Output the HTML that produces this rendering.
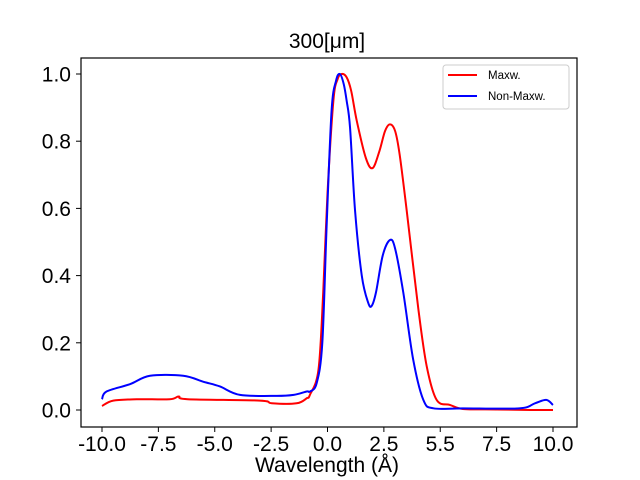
<!DOCTYPE html>
<html><head><meta charset="utf-8"><style>
body{margin:0;background:#fff}
svg{display:block;font-family:"Liberation Sans","DejaVu Sans",sans-serif}
</style></head><body>
<svg id="chart" width="640" height="480" viewBox="0 0 640 480">
<rect width="640" height="480" fill="#fff"/>
<text x="327" y="48" font-size="21" text-anchor="middle">300[μm]</text>
<g id="marks"></g>
<rect x="81" y="58" width="496" height="369" fill="none" stroke="#000" stroke-width="1.2"/>
<g id="ticks"></g>
<text x="327" y="472" font-size="21" text-anchor="middle">Wavelength (Å)</text>
<g>
<rect x="443" y="65" width="126" height="44" rx="3" fill="#fff" stroke="#ccc"/>
<line x1="448" y1="75" x2="477" y2="75" stroke="#f00" stroke-width="2"/>
<text x="488" y="79" font-size="11.5">Maxw.</text>
<line x1="448" y1="96" x2="477" y2="96" stroke="#00f" stroke-width="2"/>
<text x="488" y="100" font-size="11.5">Non-Maxw.</text>
</g>
</svg>
<script>
const xTicks=[-10,-7.5,-5,-2.5,0,2.5,5,7.5,10];
const xTickLabels=["-10.0","-7.5","-5.0","-2.5","0.0","2.5","5.5","7.5","10.0"];
const yTicks=[0,0.2,0.4,0.6,0.8,1.0];
const yTickLabels=["0.0","0.2","0.4","0.6","0.8","1.0"];
const maxwX=[-10,-9.5,-8.46,-7,-6.6,-6.2,-3,-2.47,-1.37,-0.92,-0.78,-0.4,-0.19,0,0.26,0.45,0.63,0.85,1.05,1.3,1.7,2.0,2.3,2.55,2.77,3.0,3.2,3.51,4.03,4.4,4.84,5.43,6,7,8,9,10];
const maxwY=[0.012,0.028,0.032,0.032,0.04,0.032,0.028,0.02,0.02,0.035,0.045,0.12,0.35,0.645,0.92,0.985,1.0,0.99,0.95,0.86,0.75,0.72,0.77,0.83,0.85,0.83,0.76,0.595,0.30,0.13,0.03,0.015,0.003,0.002,0.001,0.0,0.0];
const nonX=[-10,-9.8,-8.76,-7.87,-6.4,-5.5,-4.77,-3.88,-2.25,-1.5,-0.92,-0.78,-0.48,-0.23,-0.04,0.18,0.38,0.55,0.72,0.85,1.0,1.22,1.52,1.8,1.96,2.15,2.45,2.77,3.0,3.36,3.8,4.25,4.7,6,8.5,9.2,9.7,10];
const nonY=[0.032,0.055,0.077,0.102,0.102,0.084,0.07,0.045,0.042,0.045,0.055,0.055,0.08,0.2,0.545,0.89,0.98,1.0,0.97,0.92,0.84,0.595,0.40,0.32,0.31,0.35,0.46,0.506,0.48,0.35,0.15,0.03,0.005,0.005,0.005,0.02,0.03,0.015];
const NS="http://www.w3.org/2000/svg";
const sx=v=>327.5+v*22.55;
const sy=v=>410-v*336;
const marks=document.getElementById('marks');
function line(xs,ys,color,name){
  const P=xs.map((x,i)=>[sx(x),sy(ys[i])]);
  let d='M'+P[0][0]+','+P[0][1];
  for(let i=0;i<P.length-1;i++){
    const p0=P[Math.max(0,i-1)],p1=P[i],p2=P[i+1],p3=P[Math.min(P.length-1,i+2)];
    const c1=[p1[0]+(p2[0]-p0[0])/6,p1[1]+(p2[1]-p0[1])/6];
    const c2=[p2[0]-(p3[0]-p1[0])/6,p2[1]-(p3[1]-p1[1])/6];
    d+=' C'+c1[0]+','+c1[1]+' '+c2[0]+','+c2[1]+' '+p2[0]+','+p2[1];
  }
  const p=document.createElementNS(NS,'path');
  p.setAttribute('d',d);
  p.setAttribute('fill','none');p.setAttribute('stroke',color);p.setAttribute('stroke-width','2');
  p.setAttribute('stroke-linejoin','round');
  
  
  marks.appendChild(p);
}
line(maxwX,maxwY,'#f00','maxw-line');
line(nonX,nonY,'#00f','non-maxw-line');
const tg=document.getElementById('ticks');
xTicks.forEach((v,i)=>{
  const l=document.createElementNS(NS,'line');
  l.setAttribute('x1',sx(v));l.setAttribute('x2',sx(v));l.setAttribute('y1',427);l.setAttribute('y2',432);l.setAttribute('stroke','#000');
  
  
  tg.appendChild(l);
  const t=document.createElementNS(NS,'text');
  t.setAttribute('x',sx(v));t.setAttribute('y',451);t.setAttribute('font-size','21');t.setAttribute('text-anchor','middle');
  t.textContent=xTickLabels[i];
  
  
  tg.appendChild(t);
});
yTicks.forEach((v,i)=>{
  const l=document.createElementNS(NS,'line');
  l.setAttribute('x1',76);l.setAttribute('x2',81);l.setAttribute('y1',sy(v));l.setAttribute('y2',sy(v));l.setAttribute('stroke','#000');
  
  
  tg.appendChild(l);
  const t=document.createElementNS(NS,'text');
  t.setAttribute('x',71);t.setAttribute('y',sy(v)+7.5);t.setAttribute('font-size','21');t.setAttribute('text-anchor','end');
  t.textContent=yTickLabels[i];
  
  
  tg.appendChild(t);
});
</script>
</body></html>
